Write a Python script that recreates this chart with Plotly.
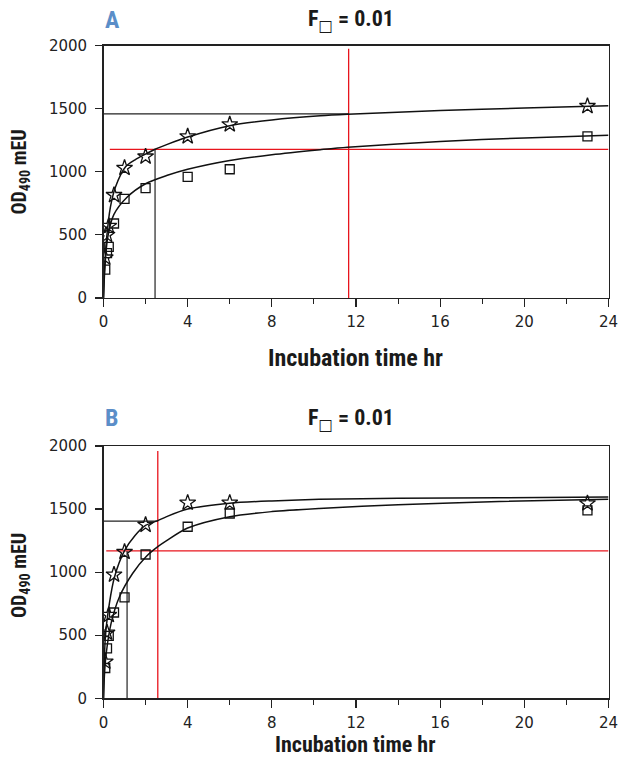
import plotly.graph_objects as go

# ---------------- data ----------------
# Panel A
a_star_x = [0.083, 0.167, 0.25, 0.5, 1, 2, 4, 6, 23]
a_star_y = [320, 500, 570, 815, 1030, 1120, 1280, 1375, 1520]
a_sq_x = [0.083, 0.167, 0.25, 0.5, 1, 2, 4, 6, 23]
a_sq_y = [225, 355, 405, 590, 785, 870, 960, 1020, 1280]
a_fit_star_x = [0, 0.05, 0.14, 0.33, 0.57, 1.05, 1.5, 2, 2.45, 3, 4, 6, 8, 10.3, 11.6, 16, 20, 24]
a_fit_star_y = [0, 230, 459, 722, 880, 1040, 1095, 1140, 1178, 1215, 1275, 1365, 1410, 1443, 1455, 1485, 1505, 1522]
a_fit_sq_x = [0, 0.07, 0.2, 0.49, 1.13, 2, 3, 4, 6, 8, 10.3, 11.6, 16, 20, 24]
a_fit_sq_y = [0, 250, 480, 660, 800, 905, 970, 1020, 1090, 1135, 1175, 1195, 1240, 1268, 1290]
a_red_v = 11.65      # time (hr)
a_red_h = 1178       # OD
a_blk_v = 2.45
a_blk_h = 1458

# Panel B
b_star_x = [0.083, 0.167, 0.25, 0.5, 1, 2, 4, 6, 23]
b_star_y = [290, 520, 660, 980, 1160, 1375, 1550, 1550, 1545]
b_sq_x = [0.083, 0.167, 0.25, 0.5, 1, 2, 4, 6, 23]
b_sq_y = [240, 395, 495, 680, 800, 1140, 1360, 1465, 1490]
b_fit_star_x = [0, 0.09, 0.28, 0.52, 1, 1.5, 2, 2.58, 3, 4, 6, 8, 10.25, 14, 18.8, 24]
b_fit_star_y = [0, 488, 753, 960, 1170, 1290, 1370, 1408, 1440, 1500, 1546, 1565, 1577, 1585, 1590, 1596]
b_fit_sq_x = [0, 0.05, 0.13, 0.36, 0.76, 1.39, 2.02, 2.58, 3, 4, 6, 8, 10.25, 14, 18.8, 24]
b_fit_sq_y = [0, 200, 357, 594, 805, 991, 1122, 1202, 1250, 1350, 1440, 1480, 1505, 1535, 1560, 1578]
b_red_v = 2.58
b_red_h = 1168
b_blk_v = 1.12
b_blk_h = 1405

x_ticks = [0, 4, 8, 12, 16, 20, 24]
x_minor_ticks = [2, 6, 10, 14, 18, 22]
y_ticks = [0, 500, 1000, 1500, 2000]
panel_labels = ["A", "B"]
panel_title = "F<sub><span style='font-family:DejaVu Sans;color:#1a1a1a'>□</span></sub> = 0.01"
x_title = "Incubation time hr"
y_title = "OD<sub>490</sub> mEU"

# ---------------- figure ----------------
W, H = 618, 758


def fx(p):
    return p / W


def fy(p):
    return 1 - p / H


BOLD = "Liberation Sans Narrow, Roboto Condensed, DejaVu Sans Condensed, Roboto, sans-serif"
TICKF = "DejaVu Sans, Liberation Sans, sans-serif"
RED = "#e8141c"

fig = go.Figure()

panels = [
    dict(xa="x", ya="y", sx=a_star_x, sy=a_star_y, qx=a_sq_x, qy=a_sq_y,
         fsx=a_fit_star_x, fsy=a_fit_star_y, fqx=a_fit_sq_x, fqy=a_fit_sq_y,
         rv=a_red_v, rh=a_red_h, bv=a_blk_v, bh=a_blk_h, rv_top=1975, rh_x0=0.3,
         bh_x1=a_red_v, bv_top=a_red_h),
    dict(xa="x2", ya="y2", sx=b_star_x, sy=b_star_y, qx=b_sq_x, qy=b_sq_y,
         fsx=b_fit_star_x, fsy=b_fit_star_y, fqx=b_fit_sq_x, fqy=b_fit_sq_y,
         rv=b_red_v, rh=b_red_h, bv=b_blk_v, bh=b_blk_h, rv_top=1960, rh_x0=0.13,
         bh_x1=b_red_v, bv_top=b_red_h),
]

for p in panels:
    xa, ya = p["xa"], p["ya"]
    fig.add_trace(go.Scatter(x=[p["rv"], p["rv"]], y=[0, p["rv_top"]], mode="lines",
                             line=dict(color=RED, width=1.3), xaxis=xa, yaxis=ya, showlegend=False))
    fig.add_trace(go.Scatter(x=[p["rh_x0"], 24], y=[p["rh"], p["rh"]], mode="lines",
                             line=dict(color=RED, width=1.3), xaxis=xa, yaxis=ya, showlegend=False))
    fig.add_trace(go.Scatter(x=[0, p["bh_x1"]], y=[p["bh"], p["bh"]], mode="lines",
                             line=dict(color="#222", width=1.2), xaxis=xa, yaxis=ya, showlegend=False))
    fig.add_trace(go.Scatter(x=[p["bv"], p["bv"]], y=[0, p["bv_top"]], mode="lines",
                             line=dict(color="#222", width=1.2), xaxis=xa, yaxis=ya, showlegend=False))
    fig.add_trace(go.Scatter(x=p["fsx"], y=p["fsy"], mode="lines",
                             line=dict(color="#111", width=1.5, shape="spline", smoothing=0.8),
                             xaxis=xa, yaxis=ya, showlegend=False))
    fig.add_trace(go.Scatter(x=p["fqx"], y=p["fqy"], mode="lines",
                             line=dict(color="#111", width=1.5, shape="spline", smoothing=0.8),
                             xaxis=xa, yaxis=ya, showlegend=False))
    fig.add_trace(go.Scatter(x=p["qx"], y=p["qy"], mode="markers",
                             marker=dict(symbol="square-open", size=9, color="#111",
                                         line=dict(width=1.3, color="#111")),
                             xaxis=xa, yaxis=ya, showlegend=False))
    fig.add_trace(go.Scatter(x=p["sx"], y=p["sy"], mode="markers",
                             marker=dict(symbol="star-open", size=12, color="#111",
                                         line=dict(width=1.3, color="#111")),
                             xaxis=xa, yaxis=ya, showlegend=False))

x_dom = [fx(103.5), fx(608.5)]
yA_dom = [fy(298), fy(45.5)]
yB_dom = [fy(698.3), fy(446)]

common_x = dict(range=[0, 24], tickvals=x_ticks, ticks="outside", ticklen=8, tickwidth=1.2,
                tickcolor="#222", showline=True, linecolor="#222", linewidth=1.4, mirror=True,
                showgrid=False, zeroline=False, domain=x_dom, automargin=False,
                ticklabelstandoff=2, ticklabeloverflow="allow",
                tickfont=dict(family=TICKF, size=15, color="#222"),
                minor=dict(tickvals=x_minor_ticks, ticks="outside", ticklen=5,
                           tickwidth=1.1, tickcolor="#222", showgrid=False))
common_y = dict(range=[0, 2000], tickvals=y_ticks, ticks="outside", ticklen=7, tickwidth=1.2,
                tickcolor="#222", showline=True, linecolor="#222", linewidth=1.4, mirror=True,
                showgrid=False, zeroline=False, automargin=False, ticklabelstandoff=5,
                ticklabeloverflow="allow",
                tickfont=dict(family=TICKF, size=15, color="#222"))

fig.update_layout(
    width=W, height=H, autosize=False, hovermode=False,
    margin=dict(l=0, r=0, t=0, b=0, pad=0, autoexpand=False),
    paper_bgcolor="white", plot_bgcolor="white",
    xaxis=dict(common_x, anchor="y"),
    yaxis=dict(common_y, domain=yA_dom, anchor="x"),
    xaxis2=dict(common_x, anchor="y2"),
    yaxis2=dict(common_y, domain=yB_dom, anchor="x2"),
)

ann = []
for lab, lab_y, title_y, xt_y, xt_size, yt_c in [(panel_labels[0], 20, 20, 358, 24, 172.5),
                                                 (panel_labels[1], 418, 419, 744, 22, 576)]:
    ann.append(dict(text="<b>%s</b>" % lab, x=fx(103), y=fy(lab_y), xref="paper", yref="paper",
                    xanchor="left", yanchor="middle", showarrow=False,
                    font=dict(family=BOLD, size=24, color="#5b8ec8")))
    ann.append(dict(text="<b>%s</b>" % panel_title, x=fx(351), y=fy(title_y), xref="paper",
                    yref="paper", xanchor="center", yanchor="middle", showarrow=False,
                    font=dict(family=BOLD, size=22, color="#1a1a1a")))
    ann.append(dict(text="<b>%s</b>" % x_title, x=fx(355), y=fy(xt_y), xref="paper",
                    yref="paper", xanchor="center", yanchor="middle", showarrow=False,
                    font=dict(family=BOLD, size=xt_size, color="#1a1a1a")))
    ann.append(dict(text="<b>%s</b>" % y_title, x=fx(20), y=fy(yt_c), xref="paper",
                    yref="paper", xanchor="center", yanchor="middle", showarrow=False,
                    textangle=-90, font=dict(family=BOLD, size=20, color="#1a1a1a")))
fig.update_layout(annotations=ann)

fig.write_html(
    "out.html",
    config={"displayModeBar": False, "staticPlot": True},
    post_script="document.body.style.margin='0';document.body.style.overflow='hidden';",
)
